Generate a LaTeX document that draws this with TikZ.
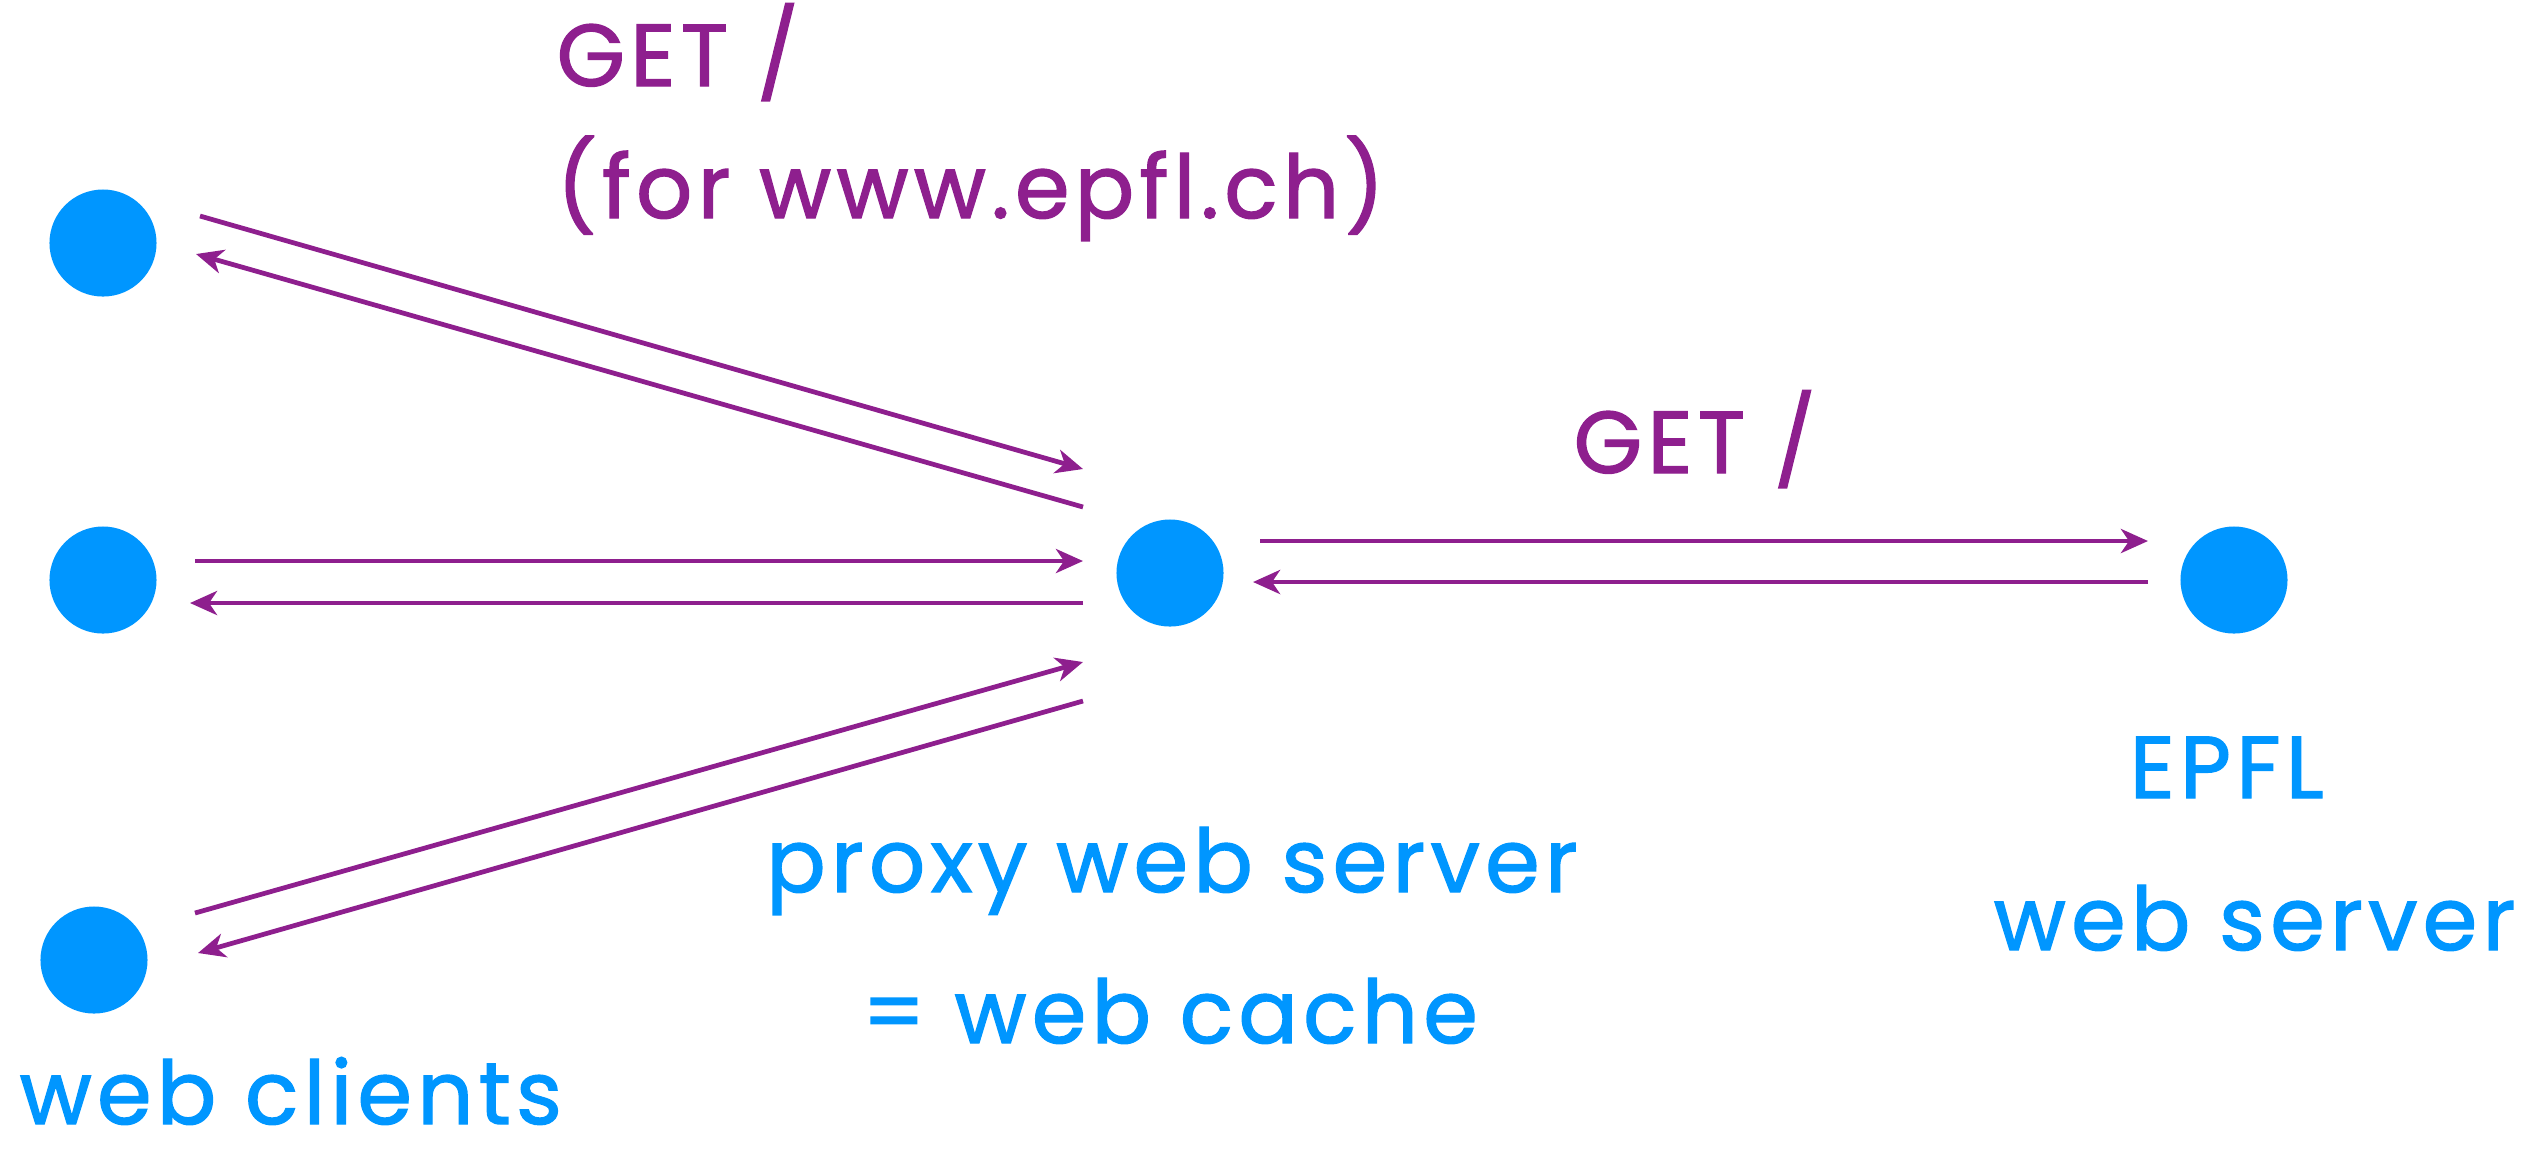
\documentclass[tikz,border=0pt]{standalone}
\usepackage{fontspec}
\setmainfont{Poppins}[LetterSpace=6,FakeBold=1.5]
\usetikzlibrary{arrows.meta}
\definecolor{hostblue}{RGB}{0,150,255}
\definecolor{msgpurple}{RGB}{142,31,142}
\begin{document}
\begin{tikzpicture}[x=0.01cm,y=-0.01cm,
  host/.style={circle,fill=hostblue,draw=none,minimum size=1.07cm,inner sep=0pt},
  msg/.style={draw=msgpurple,line width=1.35pt,-{Stealth[length=0.27cm,width=0.24cm,inset=0.08cm]}},
  msgtext/.style={text=msgpurple,font=\fontsize{25}{30}\selectfont,inner sep=0pt},
  hosttext/.style={text=hostblue,font=\fontsize{25}{30}\selectfont,inner sep=0pt}]
\useasboundingbox (0,0) rectangle (2542,1153);
% hosts
\node[host] (c1) at (103,243) {};
\node[host] (c2) at (103,580) {};
\node[host] (c3) at (94,960) {};
\node[host] (proxy) at (1170,573) {};
\node[host] (epfl) at (2234,580) {};
% end points of the message arrows
\coordinate (c1out) at (200,216);  \coordinate (px1in) at (1083,469);
\coordinate (px1out) at (1083,507); \coordinate (c1in) at (196,254);
\coordinate (c2out) at (195,561);  \coordinate (px2in) at (1083,561);
\coordinate (px2out) at (1083,603); \coordinate (c2in) at (190,603);
\coordinate (c3out) at (195,913);  \coordinate (px3in) at (1083,662);
\coordinate (px3out) at (1083,701); \coordinate (c3in) at (198,953);
\coordinate (pxout) at (1260,541); \coordinate (epin) at (2148,541);
\coordinate (epout) at (2148,582); \coordinate (pxin) at (1253,582);
% requests and responses
\draw[msg] (c1out) -- (px1in);
\draw[msg] (px1out) -- (c1in);
\draw[msg] (c2out) -- (px2in);
\draw[msg] (px2out) -- (c2in);
\draw[msg] (c3out) -- (px3in);
\draw[msg] (px3out) -- (c3in);
\draw[msg] (pxout) -- (epin);
\draw[msg] (epout) -- (pxin);
% labels
\node[msgtext,anchor=base west] (req1) at (556,86) {GET /};
\node[msgtext,anchor=base west] (req1b) at (556,218) {(for www.epfl.ch)};
\node[msgtext,anchor=base west] (req2) at (1573,473) {GET /};
\node[hosttext,anchor=base] (pxl1) at (1172,892) {proxy web server};
\node[hosttext,anchor=base] (pxl2) at (1170,1043) {= web cache};
\node[hosttext,anchor=base west] (epl1) at (2129,798) {EPFL};
\node[hosttext,anchor=base east] (epl2) at (2516,950) {web server};
\node[hosttext,anchor=base west] (cl) at (19,1124) {web clients};
\end{tikzpicture}
\end{document}
